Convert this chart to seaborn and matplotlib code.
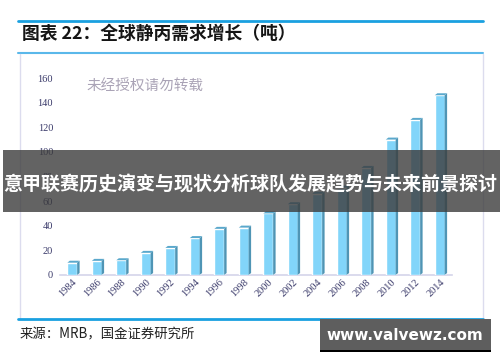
import matplotlib
matplotlib.use('Agg')
import matplotlib.pyplot as plt
import seaborn as sns
import pandas as pd
from matplotlib.patches import Polygon, Rectangle
from matplotlib.lines import Line2D

# data (tonnes)
years = ['1984', '1986', '1988', '1990', '1992', '1994', '1996', '1998',
         '2000', '2002', '2004', '2006', '2008', '2010', '2012', '2014']
demand = [10, 11.5, 12, 18, 22, 30, 37.5, 38.5, 50, 57.5, 66, 71, 87, 110, 126, 146]
yticks = [0, 20, 40, 60, 80, 100, 120, 140, 160]

title = '图表 22：全球静丙需求增长（吨）'
source = '来源：MRB，国金证券研究所'
mark = '未经授权请勿转载'
banner = '意甲联赛历史演变与现状分析球队发展趋势与未来前景探讨'
site = 'www.valvewz.com'

df = pd.DataFrame({'year': years, 'demand': demand})

sns.set_style('white')
plt.rcParams['font.family'] = ['Noto Sans CJK SC', 'DejaVu Sans']

W, H = 500, 362
fig = plt.figure(figsize=(5, 3.62), dpi=100)
ax = fig.add_axes([60 / W, 1 - 275 / H, 392 / W, 197 / H])

sns.barplot(data=df, x='year', y='demand', color='#82d5fa', width=0.4,
            saturation=1, ax=ax, zorder=3)

# fake 3D side/top faces from each bar's geometry
dx, dy = 0.1, 1.6
for p in ax.patches:
    x0, w, h = p.get_x(), p.get_width(), p.get_height()
    ax.add_patch(Polygon([(x0 + w, 0), (x0 + w + dx, dy), (x0 + w + dx, h + dy), (x0 + w, h)],
                         closed=True, fc='#4f95b5', ec='none', zorder=3))
    ax.add_patch(Polygon([(x0, h), (x0 + dx, h + dy), (x0 + w + dx, h + dy), (x0 + w, h)],
                         closed=True, fc='#5aa8cc', ec='none', zorder=3))

ax.set_xlim(-0.5, len(years) - 0.5)
ax.set_ylim(0, 160)
ax.set_yticks(yticks)
ax.set_xlabel('')
ax.set_ylabel('')
sns.despine(ax=ax, left=True)
ax.spines['bottom'].set_color('#d4d4ea')
ax.spines['bottom'].set_linewidth(1.2)
ax.set_xticks([i - 0.5 for i in range(len(years) + 1)], minor=True)
ax.tick_params(axis='x', which='minor', length=3, color='#d4d4ea', width=1)
ax.tick_params(axis='x', which='major', length=0, pad=2)
ax.tick_params(axis='y', length=0, pad=5)
for lab in ax.get_xticklabels():
    lab.set_rotation(45)
    lab.set_ha('right')
    lab.set_rotation_mode('anchor')
for lab in ax.get_xticklabels() + ax.get_yticklabels():
    lab.set_family('Liberation Serif')
    lab.set_fontsize(7.5)
    lab.set_color('#3a3a6a')

# frame lines and header
fig.add_artist(Line2D([18 / W, 483 / W], [1 - 21 / H] * 2, color='#1aa0e0', lw=2))
fig.add_artist(Line2D([18 / W, 483 / W], [1 - 53 / H] * 2, color='#5ab8ea', lw=1.5))
fig.add_artist(Line2D([20 / W, 20 / W], [1 - 54 / H, 1 - 318 / H], color='#dcdcee', lw=1))
fig.add_artist(Line2D([483 / W, 483 / W], [1 - 54 / H, 1 - 318 / H], color='#dcdcee', lw=1))
fig.add_artist(Line2D([18 / W, 483 / W], [1 - 319 / H] * 2, color='#1aa0e0', lw=2))

fig.text(22 / W, 1 - 34 / H, title, fontsize=12.8, fontweight='bold',
         color='#151515', va='center', ha='left')
fig.text(20 / W, 1 - 334 / H, source, fontsize=9.6, color='#202020',
         va='center', ha='left')
fig.text(86 / W, 1 - 86 / H, mark, fontsize=10.5, color='#aaa3b6',
         va='center', ha='left')

# overlay banner
fig.add_artist(Rectangle((3 / W, 1 - 212 / H), 497 / W, 62 / H, transform=fig.transFigure,
                         fc='#3c3c3c', alpha=0.8, ec='none', zorder=10))
fig.text(250 / W, 1 - 185 / H, banner, fontsize=13.7, fontweight='bold', color='white',
         va='center', ha='center', zorder=11)

# site badge
fig.add_artist(Rectangle((320 / W, 1 - 352 / H), 171 / W, 3 / H, transform=fig.transFigure,
                         fc='black', ec='none', zorder=10))
fig.add_artist(Rectangle((320 / W, 1 - 350 / H), 171 / W, 31 / H, transform=fig.transFigure,
                         fc='#5e5e5e', ec='none', zorder=10))
fig.text(405 / W, 1 - 335 / H, site, fontsize=11, fontweight='bold', color='white',
         family='DejaVu Sans', va='center', ha='center', zorder=11)

fig.savefig('out.png', dpi=100)
